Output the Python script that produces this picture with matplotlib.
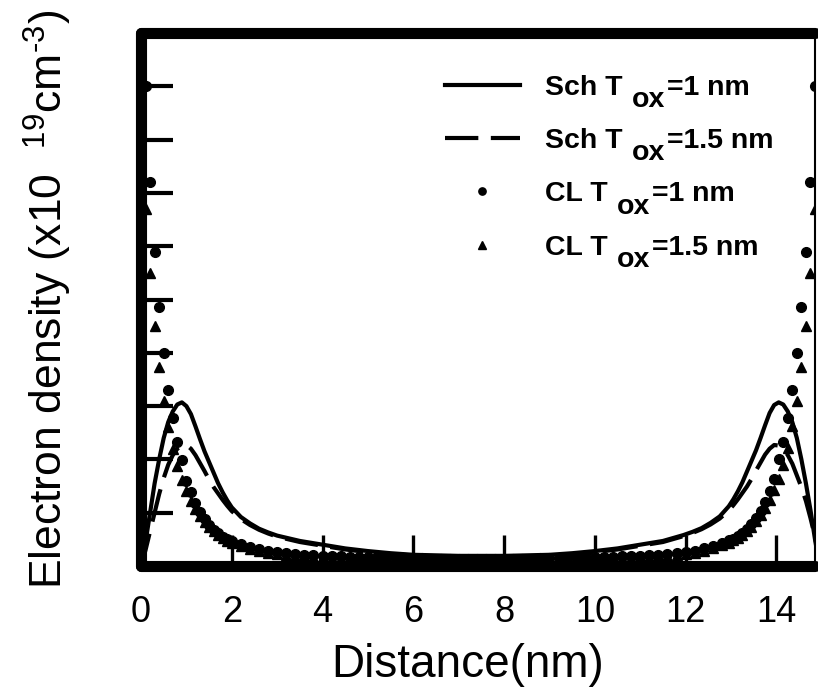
import matplotlib
matplotlib.use("Agg")
import matplotlib.pyplot as plt

# Schroedinger-Poisson profiles (x in nm, n in 1e19 cm^-3)
x_sch = [0.0, 0.1, 0.2, 0.3, 0.4, 0.5, 0.6, 0.7, 0.8, 0.9, 1.0, 1.1, 1.2, 1.3,
         1.4, 1.5, 1.6, 1.7, 1.8, 1.9, 2.0, 2.2, 2.4, 2.6, 2.8, 3.0,
         3.5, 4.0, 4.5, 5.0, 5.5, 6.0, 6.5, 7.0, 7.5, 8.0, 8.5, 9.0, 9.5,
         10.0, 10.5, 11.0, 11.5,
         11.95, 12.15, 12.35, 12.55, 12.75, 12.95, 13.05, 13.15, 13.25, 13.35,
         13.45, 13.55, 13.65, 13.75, 13.85, 13.95, 14.05, 14.15, 14.25, 14.35,
         14.45, 14.55, 14.65, 14.75, 14.85, 14.95]
sch_tox1 = [0.0, 0.45, 1.0, 1.55, 2.0, 2.4, 2.7, 2.9, 3.03, 3.07, 3.0, 2.85,
            2.62, 2.38, 2.15, 1.95, 1.75, 1.55, 1.38, 1.23, 1.1, 0.92, 0.8,
            0.7, 0.63, 0.57,
            0.47, 0.4, 0.33, 0.28, 0.24, 0.21, 0.2, 0.19, 0.19, 0.19, 0.2,
            0.21, 0.24, 0.28, 0.33, 0.4, 0.47,
            0.58, 0.64, 0.71, 0.81, 0.93, 1.12, 1.25, 1.4, 1.57, 1.77, 1.97,
            2.17, 2.4, 2.64, 2.87, 3.02, 3.07, 3.03, 2.9, 2.7, 2.4, 2.0, 1.55,
            1.05, 0.5, 0.0]
sch_tox15 = [0.0, 0.3, 0.65, 1.0, 1.35, 1.65, 1.9, 2.08, 2.2, 2.26, 2.27, 2.2,
             2.08, 1.93, 1.78, 1.62, 1.48, 1.36, 1.24, 1.13, 1.03, 0.88, 0.77,
             0.68, 0.61, 0.55,
             0.45, 0.38, 0.31, 0.26, 0.22, 0.2, 0.18, 0.17, 0.17, 0.17, 0.18,
             0.2, 0.22, 0.26, 0.31, 0.38, 0.45,
             0.56, 0.62, 0.69, 0.78, 0.89, 1.04, 1.14, 1.25, 1.37, 1.49, 1.63,
             1.79, 1.94, 2.09, 2.2, 2.27, 2.26, 2.2, 2.08, 1.92, 1.7, 1.48,
             1.22, 0.9, 0.55, 0.1]

# Classical (CL) profiles on the device mesh
x_cl = [0.1, 0.2, 0.3, 0.4, 0.5, 0.6, 0.7, 0.8, 0.9, 1.0, 1.1, 1.2, 1.3, 1.4,
        1.5, 1.6, 1.7, 1.8, 1.9, 2.0,
        2.2, 2.4, 2.6, 2.8, 3.0, 3.2, 3.4, 3.6, 3.8, 4.0, 4.2, 4.4, 4.6, 4.8,
        5.0, 5.2, 5.4, 5.6, 5.8, 6.0, 6.2, 6.4, 6.6, 6.8, 7.0, 7.2, 7.4,
        7.6, 7.8, 8.0, 8.2, 8.4, 8.6, 8.8, 9.0, 9.2, 9.4, 9.6, 9.8, 10.0,
        10.2, 10.4, 10.6, 10.8, 11.0, 11.2, 11.4, 11.6, 11.8, 12.0, 12.2,
        12.4, 12.6, 12.8,
        12.95, 13.05, 13.15, 13.25, 13.35, 13.45, 13.55, 13.65, 13.75, 13.85,
        13.95, 14.05, 14.15, 14.25, 14.35, 14.45, 14.55, 14.65, 14.75, 14.85]
cl_tox1 = [9.0, 7.2, 5.9, 4.85, 4.0, 3.3, 2.78, 2.33, 1.99, 1.6, 1.38, 1.18,
           1.02, 0.88, 0.77, 0.68, 0.61, 0.55, 0.5, 0.47,
           0.41, 0.36, 0.32, 0.28, 0.26, 0.24, 0.22, 0.21, 0.2, 0.19, 0.18,
           0.18, 0.17, 0.17, 0.16, 0.16, 0.16, 0.15, 0.15, 0.15, 0.15, 0.14,
           0.14, 0.14, 0.14, 0.14, 0.14,
           0.14, 0.14, 0.14, 0.14, 0.14, 0.14, 0.15, 0.15, 0.15, 0.15, 0.16,
           0.16, 0.16, 0.17, 0.17, 0.18, 0.18, 0.19, 0.2, 0.21, 0.22, 0.24,
           0.26, 0.29, 0.33, 0.37, 0.43,
           0.48, 0.51, 0.56, 0.62, 0.69, 0.79, 0.9, 1.04, 1.2, 1.4, 1.64, 2.0,
           2.33, 2.78, 3.3, 4.0, 4.85, 5.9, 7.2, 9.0]
cl_tox15 = [6.7, 5.5, 4.5, 3.73, 3.1, 2.6, 2.2, 1.88, 1.62, 1.4, 1.22, 1.07,
            0.94, 0.83, 0.73, 0.65, 0.58, 0.52, 0.47, 0.43,
            0.37, 0.32, 0.28, 0.25, 0.22, 0.2, 0.19, 0.18, 0.17, 0.16, 0.15,
            0.15, 0.14, 0.14, 0.13, 0.13, 0.13, 0.12, 0.12, 0.12, 0.12, 0.11,
            0.11, 0.11, 0.11, 0.11, 0.11,
            0.11, 0.11, 0.11, 0.11, 0.11, 0.11, 0.12, 0.12, 0.12, 0.12, 0.13,
            0.13, 0.13, 0.14, 0.14, 0.15, 0.15, 0.16, 0.17, 0.18, 0.19, 0.2,
            0.22, 0.25, 0.29, 0.33, 0.39,
            0.44, 0.48, 0.53, 0.59, 0.66, 0.74, 0.84, 0.95, 1.08, 1.23, 1.42,
            1.64, 1.9, 2.22, 2.62, 3.1, 3.73, 4.5, 5.5, 6.7]

x_ticks = [0, 2, 4, 6, 8, 10, 12, 14]
y_ticks = [1, 2, 3, 4, 5, 6, 7, 8, 9]

# legend text is split: "<model> T" + subscript "ox" + "=<tox> nm"
legend_heads = ["Sch T", "Sch T", "CL T", "CL T"]
legend_tails = ["=1 nm", "=1.5 nm", "=1 nm", "=1.5 nm"]

plt.rcParams["font.family"] = ["Liberation Sans", "DejaVu Sans"]
plt.rcParams["mathtext.fontset"] = "custom"
plt.rcParams["mathtext.rm"] = "Liberation Sans"

fig = plt.figure(figsize=(8.18, 6.94), dpi=100)
ax = fig.add_axes([141 / 818, 1 - 566 / 694, (815 - 141) / 818, (566 - 33) / 694])

ax.plot(x_sch, sch_tox1, color="black", lw=3, label=legend_heads[0])
ax.plot(x_sch, sch_tox15, color="black", lw=3, dashes=(8, 3), label=legend_heads[1])
ax.plot(x_cl, cl_tox1, linestyle="none", marker="o", ms=7, color="black",
        label=legend_heads[2])
ax.plot(x_cl, cl_tox15, linestyle="none", marker="^", ms=7, color="black",
        label=legend_heads[3])

ax.set_xlim(0, 14.85)
ax.set_ylim(0, 10)
ax.set_xticks(x_ticks)
ax.set_yticks(y_ticks)
ax.set_yticklabels([])
ax.tick_params(axis="x", direction="in", length=22, width=2.4, pad=21,
               labelsize=26, top=False)
ax.tick_params(axis="y", direction="in", length=23, width=3, right=False)

for side in ("left", "top", "bottom"):
    ax.spines[side].set_linewidth(8)
    ax.spines[side].set_capstyle("round")
ax.spines["right"].set_linewidth(1.5)

ax.set_xlabel("Distance(nm)", fontsize=33)
ax.xaxis.set_label_coords(0.484, -0.145)
ax.set_ylabel(r"Electron density (x10  $^{19}$cm$^{\text{-3}}$)", fontsize=32,
              labelpad=45)

fs = 20.5
leg = ax.legend(loc="upper left", bbox_to_anchor=(0.451, 0.922), frameon=False,
                prop={"weight": "bold", "size": fs}, handlelength=2.63,
                handletextpad=0.88, labelspacing=0.96, borderpad=0,
                borderaxespad=0, markerscale=0.75)
for head, tail in zip(leg.get_texts(), legend_tails):
    sub = ax.annotate("ox", xy=(1, 0), xycoords=head, xytext=(7, -9),
                      textcoords="offset points", fontsize=fs, weight="bold",
                      ha="left", va="bottom", zorder=10)
    ax.annotate(tail, xy=(1, 0), xycoords=sub, xytext=(1, 9),
                textcoords="offset points", fontsize=fs, weight="bold",
                ha="left", va="bottom", zorder=10)

fig.savefig("out.png", dpi=100)
